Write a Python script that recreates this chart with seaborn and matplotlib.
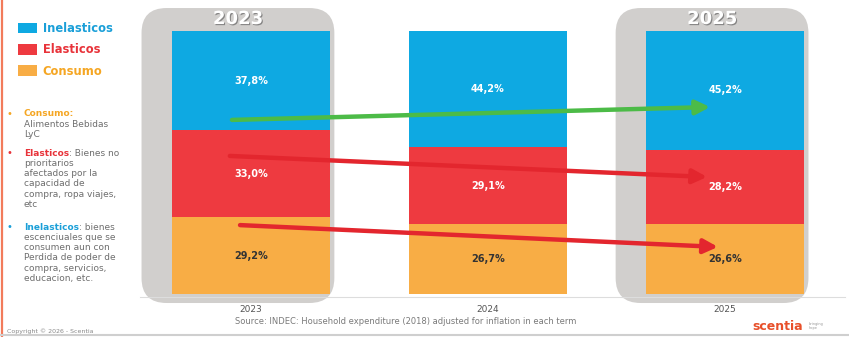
import numpy as np
import pandas as pd
import seaborn as sns
import matplotlib
matplotlib.use("Agg")
import matplotlib.pyplot as plt
from matplotlib.patches import FancyBboxPatch, Patch
from matplotlib.lines import Line2D
import matplotlib.patheffects as pe

# ---------------- data ----------------
years = ["2023", "2024", "2025"]
consumo = [29.2, 26.7, 26.6]
elasticos = [33.0, 29.1, 28.2]
inelasticos = [37.8, 44.2, 45.2]
highlight_years = ["2023", "2025"]
series_names = ["Inelasticos", "Elasticos", "Consumo"]

C_BLUE = "#0ea9e2"
C_RED = "#ee3a40"
C_ORANGE = "#f8ad45"
C_BOX = "#d1cfcd"
C_TXT = "#6e6e6e"

sns.set_theme(style="white")
plt.rcParams["font.family"] = ["DejaVu Sans"]

W, H = 849, 337
fig = plt.figure(figsize=(W / 100, H / 100), dpi=100)
fig.patch.set_facecolor("white")

# axes placement (pixels): left 140, right 845, top 0, bottom 297
ax = fig.add_axes([140 / W, (H - 297) / H, (845 - 140) / W, 297 / H])
ax.set_facecolor("white")

df = pd.DataFrame({"year": years, "cons": consumo, "elas": elasticos, "inel": inelasticos})
df["c2"] = df["cons"] + df["elas"]
df["c3"] = df["c2"] + df["inel"]

bw = 0.67
sns.barplot(data=df, x="year", y="c3", color=C_BLUE, saturation=1, width=bw, ax=ax, zorder=3, edgecolor="none")
sns.barplot(data=df, x="year", y="c2", color=C_RED, saturation=1, width=bw, ax=ax, zorder=3, edgecolor="none")
sns.barplot(data=df, x="year", y="cons", color=C_ORANGE, saturation=1, width=bw, ax=ax, zorder=3, edgecolor="none")

ax.set_xlim(-0.468, 2.506)
ax.set_ylim(-1.14, 111.8)

# pixel scales
px_x = (845 - 140) / (2.506 + 0.468)
px_y = 297 / (111.8 + 1.14)

# value labels
for i in range(len(years)):
    segs = [(0, df["cons"][i], "#333333"),
            (df["cons"][i], df["elas"][i], "white"),
            (df["c2"][i], df["inel"][i], "white")]
    for base, h, col in segs:
        ax.text(i, base + h / 2, f"{h:.1f}%".replace(".", ","), ha="center", va="center",
                fontsize=7, fontweight="bold", color=col, zorder=5)

# highlight boxes
r = 25 / px_x
for y in highlight_years:
    i = years.index(y)
    left = i - bw / 2 - 30 / px_x
    right = i + bw / 2 + 4 / px_x
    bottom = -9 / px_y
    top = 100 + 23 / px_y
    box = FancyBboxPatch((left, bottom), right - left, top - bottom,
                         boxstyle=f"round,pad=0,rounding_size={r}",
                         mutation_aspect=px_x / px_y,
                         facecolor=C_BOX, edgecolor="none", zorder=1, clip_on=False)
    ax.add_patch(box)
    t = ax.text((left + right) / 2, 100 + 12 / px_y, y, ha="center", va="center",
                fontsize=13, fontweight="bold", color="white", zorder=6)
    t.set_path_effects([pe.withSimplePatchShadow(offset=(0.8, -0.8), shadow_rgbFace="#555555", alpha=0.6)])

# trend arrows
arrows = [((-0.080, 66.2), (1.937, 71.1), "#4cbb47"),
          ((-0.089, 52.5), (1.924, 44.5), "#e3262e"),
          ((-0.046, 26.2), (1.970, 17.9), "#e3262e")]
for (x0, y0), (x1, y1), col in arrows:
    ax.annotate("", xy=(x1, y1), xytext=(x0, y0),
                arrowprops=dict(arrowstyle="-|>,head_length=0.6,head_width=0.3", lw=3.2,
                                color=col, shrinkA=0, shrinkB=0, mutation_scale=14),
                zorder=7)

# axes styling
for s in ["top", "right", "left"]:
    ax.spines[s].set_visible(False)
ax.spines["bottom"].set_color("#dddddd")
ax.spines["bottom"].set_linewidth(0.8)
ax.spines["bottom"].set_zorder(2)
ax.set_yticks([])
ax.set_xlabel("")
ax.set_ylabel("")
ax.tick_params(axis="x", length=0, pad=6, labelsize=6.5, labelcolor="#555555")

# ---------------- left panel ----------------
def fx(px):
    return px / W

def fy(py):
    return 1 - py / H

handles = [Patch(facecolor=c, edgecolor="none") for c in (C_BLUE, C_RED, C_ORANGE)]
leg = fig.legend(handles, series_names, loc="upper left", bbox_to_anchor=(fx(18), fy(22)),
                 bbox_transform=fig.transFigure, frameon=False, prop=dict(size=8.3, weight="bold"),
                 labelcolor=["#1a9fd8", "#e8333a", "#f5a623"], handlelength=1.65, handleheight=1.0,
                 handletextpad=0.5, labelspacing=0.72, borderpad=0, borderaxespad=0)

renderer = fig.canvas.get_renderer()

def line(px, py, parts, size=6.5):
    x = px
    for txt, col, bold in parts:
        t = fig.text(fx(x), fy(py), txt, ha="left", va="center", fontsize=size,
                     color=col, fontweight="bold" if bold else "normal")
        bb = t.get_window_extent(renderer=renderer)
        x += bb.width

blocks = [
    (114, "#f5a623", [[("Consumo:", "#f5a623", True)], [("Alimentos Bebidas", C_TXT, False)], [("LyC", C_TXT, False)]]),
    (153, "#e8333a", [[("Elasticos", "#e8333a", True), (": Bienes no", C_TXT, False)],
                      [("prioritarios", C_TXT, False)], [("afectados por la", C_TXT, False)],
                      [("capacidad de", C_TXT, False)], [("compra, ropa viajes,", C_TXT, False)],
                      [("etc", C_TXT, False)]]),
    (227, "#1a9fd8", [[("Inelasticos", "#1a9fd8", True), (": bienes", C_TXT, False)],
                      [("escenciuales que se", C_TXT, False)], [("consumen aun con", C_TXT, False)],
                      [("Perdida de poder de", C_TXT, False)], [("compra, servicios,", C_TXT, False)],
                      [("educacion, etc.", C_TXT, False)]]),
]
for y0, bcol, rows in blocks:
    fig.text(fx(9), fy(y0), "•", ha="center", va="center", fontsize=7, color=bcol)
    for k, parts in enumerate(rows):
        line(24, y0 + k * 10.3, parts)

fig.text(fx(7), fy(331), "Copyright © 2026 - Scentia", ha="left", va="center", fontsize=4.5, color="#888888")
fig.text(fx(235), fy(321), "Source: INDEC: Household expenditure (2018) adjusted for inflation in each term",
         ha="left", va="center", fontsize=6, color="#7a7a7a")
fig.text(fx(752), fy(326), "scentia", ha="left", va="center", fontsize=9, fontweight="bold", color="#e8502a")
fig.text(fx(809), fy(326), "bringing\nhope", ha="left", va="center", fontsize=2.5, color="#999999",
         linespacing=1.0)

# frame lines
fig.add_artist(Line2D([fx(1.5), fx(1.5)], [0, 1], color="#f27b5b", lw=1.6, transform=fig.transFigure))
fig.add_artist(Line2D([0, 1], [fy(335), fy(335)], color="#cfcfcf", lw=1.5, transform=fig.transFigure))

fig.savefig("out.png", dpi=100)
